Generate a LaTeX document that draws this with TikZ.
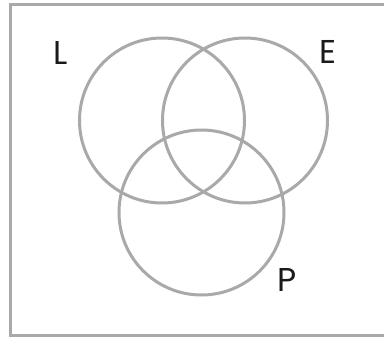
\documentclass[tikz,border=0pt]{standalone}
\usepackage{fontspec}
\setmainfont{Poppins}
\usetikzlibrary{positioning}
\definecolor{ringgrey}{HTML}{A9A9A9}
\definecolor{inkdark}{HTML}{1A1A1A}

\begin{document}
\begin{tikzpicture}[x=1pt, y=-1pt,
    ring/.style={draw=ringgrey, line width=3pt, circle, minimum size=165pt, inner sep=0pt},
    setlab/.style={text=inkdark, font=\fontsize{33}{33}\selectfont, inner sep=0pt}]
  \useasboundingbox (0,0) rectangle (384,338);
  \fill[white] (0,0) rectangle (384,338);
  \draw[ringgrey, line width=3pt] (10,4) rectangle (400,335);
  \foreach \nm/\cx/\cy in {L/162/120.5, E/245/120.5, P/201.5/212.5}{%
    \node[ring] (\nm) at (\cx,\cy) {};}
  \node[setlab] (labL) at (61,53) {L};
  \node[setlab] (labE) at (328,52) {E};
  \node[setlab] (labP) at (287,280) {P};
\end{tikzpicture}
\end{document}
